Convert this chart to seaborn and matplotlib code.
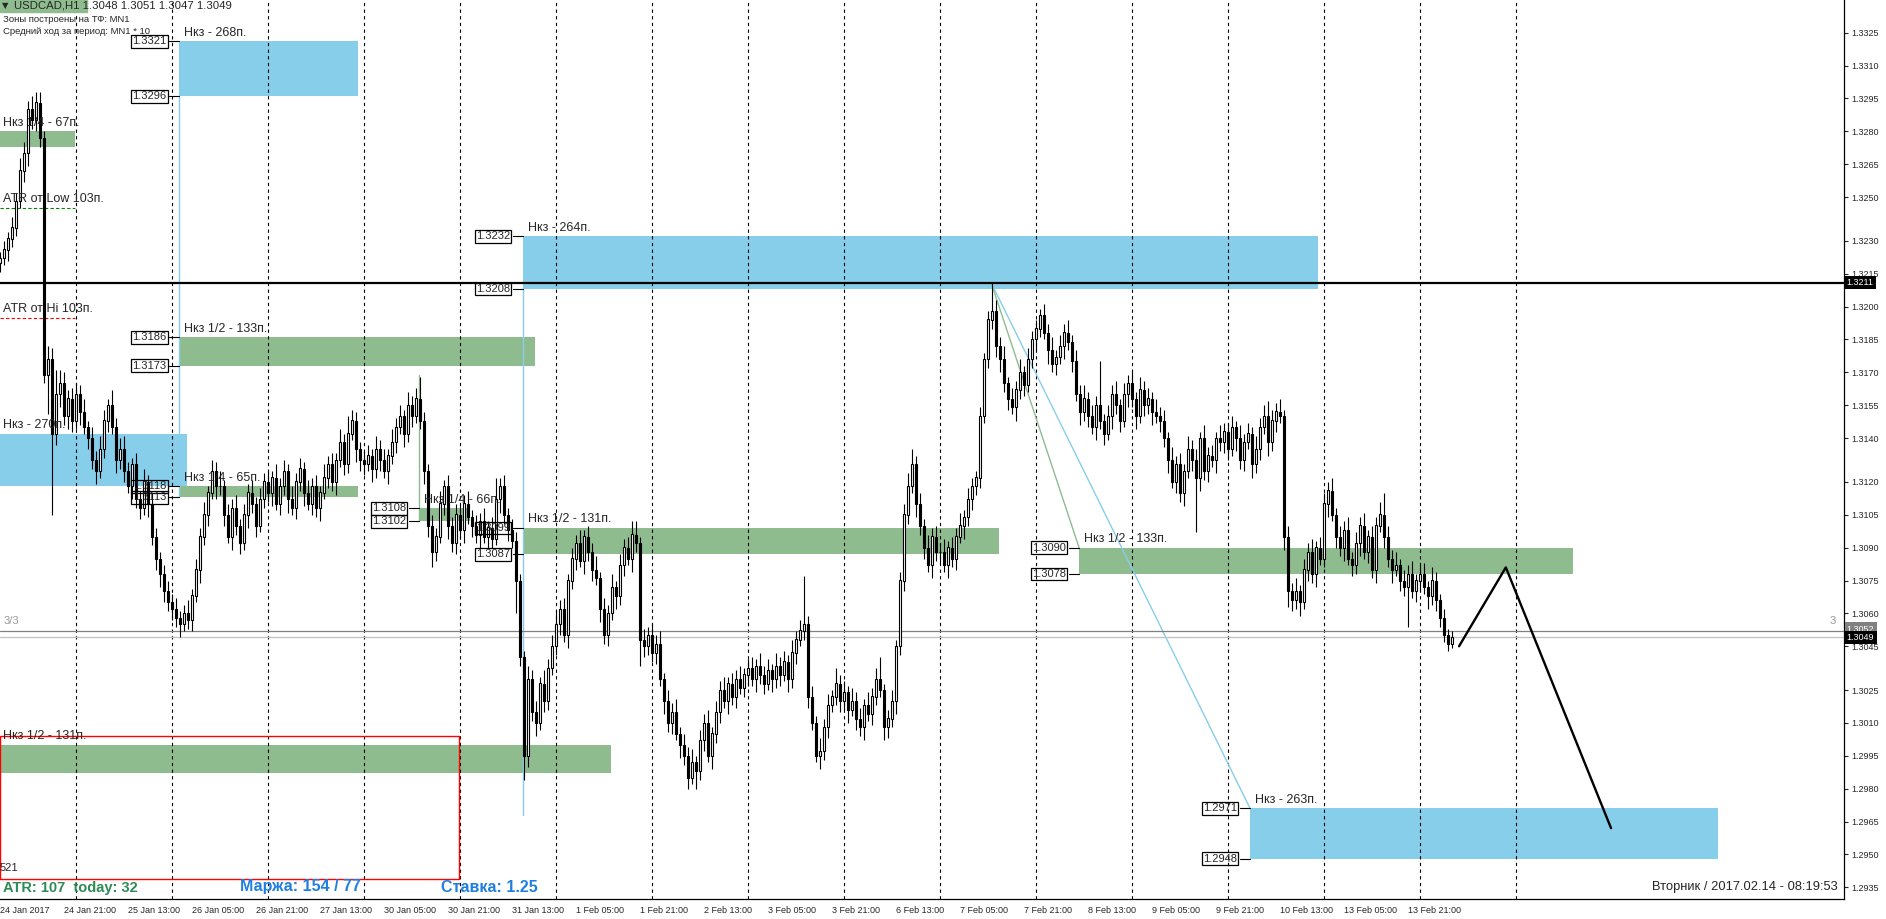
import matplotlib
matplotlib.use("Agg")
import matplotlib.pyplot as plt
from matplotlib import font_manager
from matplotlib.patches import Rectangle
import numpy as np
import seaborn as sns

# USDCAD H1, closes in pips above 1.3000 (one row per day, 24 Jan starts at 05:00)
first_open = 220
closes = [
    222, 226, 231, 236, 248, 262, 270, 290, 285, 293, 277, 169, 176, 142, 160, 165, 150, 158, 148,
    160, 152, 145, 140, 130, 125, 135, 148, 155, 145, 130, 135, 125, 118, 128, 112, 108, 120, 110, 95, 85, 78, 70, 65,
    62, 58, 55, 60, 57, 68, 80, 95, 105, 115, 125, 118, 118, 105, 95, 108, 100, 92, 105, 115, 110, 100, 112, 120,
    115, 122, 110, 118, 125, 112, 108, 120, 126, 115, 110, 118, 108, 115, 122, 128, 120, 130, 138, 128, 142, 148, 135, 130,
    128, 132, 126, 135, 130, 125, 132, 138, 145, 150, 142, 155, 150, 158, 148, 125, 100, 88, 95, 110, 118, 100, 92, 105,
    98, 110, 104, 100, 96, 102, 95, 99, 94, 112, 118, 105, 98, 93, 75, 40, -5, 30, 15, 10, 28, 20, 35, 45,
    55, 62, 50, 75, 85, 92, 84, 95, 88, 80, 76, 62, 50, 60, 72, 68, 82, 90, 85, 96, 92, 48, 45, 50,
    42, 46, 30, 20, 10, 15, 5, 0, -5, -15, -8, -12, 2, 10, -5, 5, 15, 25, 20, 28, 22, 30, 26, 32,
    35, 30, 36, 32, 28, 34, 30, 36, 32, 38, 30, 42, 48, 52, 55, 22, 10, -5, -3, 8, 18, 22, 28, 20,
    24, 16, 20, 12, 8, 18, 14, 22, 30, 25, 8, 12, 20, 45, 75, 105, 118, 128, 110, 100, 90, 82, 95, 88,
    88, 82, 90, 85, 95, 100, 104, 112, 118, 122, 150, 176, 194, 198, 182, 176, 165, 158, 154, 162, 170, 164, 176, 185,
    190, 196, 188, 180, 174, 177, 182, 188, 184, 175, 160, 152, 158, 150, 145, 155, 148, 142, 150, 160, 155, 148, 160, 165,
    158, 150, 162, 155, 158, 152, 150, 148, 140, 130, 120, 128, 115, 125, 135, 130, 122, 140, 125, 132, 130, 140, 138, 143,
    135, 145, 140, 130, 138, 142, 128, 135, 145, 150, 138, 148, 152, 150, 95, 70, 66, 70, 65, 80, 88, 78, 90, 85,
    110, 116, 105, 95, 90, 98, 85, 82, 92, 100, 88, 95, 80, 100, 105, 95, 85, 80, 82, 75, 72, 78, 70, 75,
    78, 72, 68, 75, 66, 58, 50, 46, 49,
]
# wick lengths in pips beyond the body
wick_hi = [
    3, 4, 3, 5, 4, 6, 5, 4, 6, 5, 5, 3, 6, 5, 11, 6, 5, 4, 5,
    5, 4, 6, 3, 5, 4, 6, 5, 3, 7, 4, 5, 6, 4, 3, 5, 4, 6, 3, 5, 4, 3, 4, 5,
    4, 5, 3, 4, 6, 3, 5, 4, 6, 3, 5, 4, 7, 3, 5, 4, 6, 3, 5, 4, 6, 3, 5, 4,
    5, 3, 6, 4, 5, 3, 6, 4, 5, 3, 6, 4, 5, 3, 6, 4, 5, 3, 6, 4, 8, 5, 4, 3,
    4, 5, 3, 6, 4, 5, 3, 6, 4, 5, 3, 6, 4, 5, 10, 4, 3, 5, 4, 6, 3, 5, 4, 5,
    5, 4, 6, 3, 5, 4, 6, 3, 5, 10, 4, 5, 3, 5, 4, 3, 3, 6, 4, 5, 3, 6, 4, 5,
    6, 4, 5, 3, 5, 4, 6, 3, 5, 4, 6, 3, 5, 4, 6, 3, 5, 4, 5, 6, 6, 3, 5, 4,
    5, 4, 6, 3, 5, 4, 6, 3, 5, 4, 6, 3, 5, 4, 6, 3, 5, 4, 6, 3, 5, 4, 6, 3,
    4, 5, 3, 6, 4, 5, 3, 6, 4, 5, 3, 6, 4, 5, 22, 4, 5, 3, 6, 4, 5, 3, 7, 4,
    5, 3, 6, 4, 5, 3, 6, 4, 5, 10, 3, 4, 5, 3, 4, 5, 6, 7, 4, 5, 3, 6, 4, 5,
    4, 6, 3, 5, 4, 6, 3, 5, 4, 3, 4, 3, 4, 13, 5, 4, 6, 3, 5, 4, 6, 3, 5, 4,
    4, 3, 5, 4, 6, 3, 5, 4, 6, 3, 5, 4, 6, 3, 5, 4, 20, 3, 5, 4, 6, 3, 5, 4,
    5, 3, 6, 4, 5, 3, 6, 4, 5, 3, 6, 4, 5, 3, 6, 4, 5, 3, 6, 4, 5, 3, 6, 4,
    4, 5, 3, 6, 4, 5, 3, 6, 4, 5, 7, 5, 4, 6, 3, 5, 4, 6, 3, 5, 4, 6, 3, 5,
    5, 4, 6, 3, 5, 4, 6, 3, 5, 4, 6, 3, 5, 4, 6, 10, 5, 4, 6, 3, 5, 4, 6, 3,
    4, 5, 3, 6, 4, 3, 4, 3, 3,
]
wick_lo = [
    4, 3, 5, 4, 4, 3, 5, 6, 4, 5, 4, 4, 18, 37, 5, 6, 4, 6, 5,
    4, 6, 3, 5, 4, 6, 3, 4, 5, 3, 6, 4, 5, 3, 6, 4, 5, 3, 6, 4, 5, 6, 5, 4,
    5, 4, 6, 3, 4, 5, 3, 6, 4, 5, 3, 6, 4, 5, 3, 6, 4, 5, 3, 6, 4, 5, 3, 4,
    4, 6, 3, 5, 4, 6, 3, 5, 4, 6, 3, 5, 4, 6, 3, 5, 4, 6, 3, 5, 4, 3, 6, 5,
    5, 3, 6, 4, 5, 3, 6, 4, 5, 3, 6, 4, 5, 3, 4, 6, 5, 7, 4, 3, 5, 6, 4, 5,
    4, 6, 3, 5, 4, 6, 3, 5, 4, 3, 6, 4, 5, 3, 15, 4, 11, 5, 4, 6, 3, 5, 4, 3,
    4, 5, 3, 6, 4, 5, 3, 6, 4, 5, 3, 6, 4, 5, 3, 6, 4, 5, 3, 6, 4, 12, 5, 4,
    4, 5, 3, 6, 4, 5, 3, 6, 4, 5, 3, 8, 4, 5, 3, 6, 4, 5, 3, 6, 4, 5, 3, 4,
    5, 3, 6, 4, 5, 3, 6, 4, 5, 3, 6, 4, 5, 3, 4, 5, 3, 3, 6, 4, 5, 3, 4, 5,
    4, 6, 3, 5, 4, 6, 3, 5, 4, 3, 6, 5, 4, 6, 4, 5, 4, 3, 6, 4, 5, 3, 6, 4,
    5, 3, 6, 4, 5, 3, 6, 4, 5, 4, 5, 3, 4, 4, 5, 6, 4, 5, 3, 6, 4, 5, 3, 4,
    5, 4, 3, 6, 4, 5, 3, 6, 4, 5, 3, 6, 4, 5, 3, 6, 4, 5, 3, 6, 4, 5, 3, 6,
    4, 6, 3, 5, 4, 6, 3, 5, 4, 6, 3, 5, 4, 6, 3, 5, 25, 6, 4, 5, 3, 6, 4, 5,
    5, 3, 6, 4, 5, 3, 6, 4, 5, 3, 6, 4, 5, 3, 6, 7, 5, 4, 6, 3, 5, 4, 6, 3,
    4, 6, 3, 5, 4, 6, 3, 5, 4, 6, 3, 5, 4, 6, 3, 5, 4, 6, 3, 5, 4, 18, 3, 5,
    5, 3, 6, 4, 5, 4, 3, 3, 2,
]
assert len(closes) == len(wick_hi) == len(wick_lo) == 364

time_labels = ["24 Jan 2017", "24 Jan 21:00", "25 Jan 13:00", "26 Jan 05:00", "26 Jan 21:00",
               "27 Jan 13:00", "30 Jan 05:00", "30 Jan 21:00", "31 Jan 13:00", "1 Feb 05:00",
               "1 Feb 21:00", "2 Feb 13:00", "3 Feb 05:00", "3 Feb 21:00", "6 Feb 13:00",
               "7 Feb 05:00", "7 Feb 21:00", "8 Feb 13:00", "9 Feb 05:00", "9 Feb 21:00",
               "10 Feb 13:00", "13 Feb 05:00", "13 Feb 21:00"]
time_label_bars = [0] + list(range(16, 353, 16))
day_start_bars = list(range(19, 380, 24))

price_ticks = [1.3325, 1.3310, 1.3295, 1.3280, 1.3265, 1.3250, 1.3230, 1.3215, 1.3200, 1.3185,
               1.3170, 1.3155, 1.3140, 1.3120, 1.3105, 1.3090, 1.3075, 1.3060, 1.3045, 1.3025,
               1.3010, 1.2995, 1.2980, 1.2965, 1.2950, 1.2935]

# zones: start/end bar, low/high price, kind, caption, show price boxes
zone_start = [44.8, 0, 130.8, 44.8, 0, 44.8, 104.8, 130.8, 269.8, 312.55, 0]
zone_end = [89.55, 18.8, 329.6, 133.8, 46.8, 89.55, 117.55, 249.8, 393.3, 429.55, 152.8]
zone_lo = [1.3296, 1.3273, 1.3208, 1.3173, 1.3118, 1.3113, 1.3102, 1.3087, 1.3078, 1.2948, 1.2987]
zone_hi = [1.3321, 1.3280, 1.3232, 1.3186, 1.3142, 1.3118, 1.3108, 1.3099, 1.3090, 1.2971, 1.3000]
zone_kind = ["blue", "green", "blue", "green", "blue", "green", "green", "green", "green", "blue", "green"]
zone_text = ["Нкз - 268п.", "Нкз 1/4 - 67п.", "Нкз - 264п.", "Нкз 1/2 - 133п.", "Нкз - 270п.",
             "Нкз 1/4 - 65п.", "Нкз 1/4 - 66п.", "Нкз 1/2 - 131п.", "Нкз 1/2 - 133п.",
             "Нкз - 263п.", "Нкз 1/2 - 131п."]
zone_boxes = [True, False, True, True, False, True, True, True, True, True, False]

atr_low_level = 1.3245
atr_hi_level = 1.3195
high_line = 1.3211
level3_line = 1.3052
bid = 1.3049
forecast_bars = [364.8, 376.5, 402.8]
forecast_prices = [1.3045, 1.3081, 1.2962]
peak_bar = 247.8

W, H = 1886, 919
sns.set_style("white")
names = {f.name for f in font_manager.fontManager.ttflist}
base = "Liberation Sans" if "Liberation Sans" in names else "DejaVu Sans"
narrow = "Liberation Sans Narrow" if "Liberation Sans Narrow" in names else base
axis_fs = 7.5 if narrow == "Liberation Sans Narrow" else 6.5
plt.rcParams["font.family"] = [base, "DejaVu Sans"]

fig = plt.figure(figsize=(W / 100, H / 100), dpi=100)
ax = fig.add_axes([0, 20 / H, 1844 / W, 899 / H])
ax.set_xlim(0.05, 461.05)
ax.set_ylim(1.292966, 1.333992)

colors = {"blue": "#87CEEB", "green": "#8FBC8F"}
px = 0.25  # one pixel in bar units
pip = 0.0001

# zones
for x0, x1, lo, hi, kind in zip(zone_start, zone_end, zone_lo, zone_hi, zone_kind):
    ax.fill_between([x0, x1], [lo, lo], [hi, hi], color=colors[kind], lw=0, zorder=1)
for x0, hi, txt in zip(zone_start, zone_hi, zone_text):
    tx = x0 + 5 * px if x0 > 1 else 0.8
    ax.text(tx, hi + 1.2 * pip, txt, fontsize=9, va="bottom", ha="left", zorder=8)
for x0, lo, hi, show in zip(zone_start, zone_lo, zone_hi, zone_boxes):
    if not show:
        continue
    for lvl in (hi, lo):
        ax.plot([x0 - 10 * px, x0], [lvl, lvl], color="black", lw=0.8, zorder=7)
        ax.text(x0 - 13 * px, lvl, f"{lvl:.4f}", fontsize=8, ha="right", va="center", zorder=8,
                bbox=dict(boxstyle="square,pad=0.12", fc="none", ec="black", lw=0.9))

# day separators
ax.vlines(day_start_bars, 1.292966, 1.333992, colors="black", lw=0.8,
          linestyles=(0, (3, 3)), zorder=2)

# ATR lines
ax.plot([0, 18.8], [atr_low_level] * 2, color="green", lw=0.8, ls=(0, (3, 2)), zorder=3)
ax.plot([0, 18.8], [atr_hi_level] * 2, color="red", lw=0.8, ls=(0, (3, 2)), zorder=3)
ax.text(0.8, atr_low_level + 1.2 * pip, "ATR от Low 103п.", fontsize=9, va="bottom", zorder=8)
ax.text(0.8, atr_hi_level + 1.2 * pip, "ATR от Hi 103п.", fontsize=9, va="bottom", zorder=8)

# connector lines
ax.plot([44.8, 44.8], [1.3296, 1.3113], color="#87CEEB", lw=1, zorder=3)
ax.plot([130.8, 130.8], [1.3208, 1.2968], color="#87CEEB", lw=1, zorder=3)
ax.plot([104.8, 104.8], [1.3169, 1.3102], color="#8FBC8F", lw=1, zorder=3)
ax.plot([peak_bar, 312.55], [high_line, 1.2971], color="#87CEEB", lw=1, zorder=3)
ax.plot([peak_bar, 269.8], [high_line, 1.3090], color="#8FBC8F", lw=1, zorder=3)

# horizontal levels
ax.axhline(high_line, color="black", lw=1.6, zorder=6)
ax.axhline(level3_line, color="#808080", lw=0.9, zorder=3)
ax.axhline(bid, color="#C0C0C0", lw=0.9, zorder=3)

# red box
ax.add_patch(Rectangle((0, 1.2939), 114.8, 0.0065, fill=False, ec="red", lw=1, zorder=4))

# candles
c = 1.3 + np.array(closes) / 1e4
o = np.r_[1.3 + first_open / 1e4, c[:-1]]
hi = np.maximum(o, c) + np.array(wick_hi) / 1e4
lo = np.minimum(o, c) - np.array(wick_lo) / 1e4
idx = np.arange(len(c))
ax.vlines(idx, lo, hi, colors="black", lw=0.8, zorder=4)
bull = c >= o
ax.bar(idx[bull], (c - o)[bull] + 0.00002, bottom=o[bull], width=0.55, color="white",
       edgecolor="black", lw=0.8, zorder=5)
ax.bar(idx[~bull], (o - c)[~bull], bottom=c[~bull], width=0.55, color="black",
       edgecolor="black", lw=0.8, zorder=5)

# forecast path
sns.lineplot(x=forecast_bars, y=forecast_prices, ax=ax, color="black", lw=1.7,
             sort=False, estimator=None, zorder=6)

# axes
for s in ("top", "left"):
    ax.spines[s].set_visible(False)
for s in ("right", "bottom"):
    ax.spines[s].set_color("black")
    ax.spines[s].set_linewidth(0.9)
ax.yaxis.tick_right()
ax.set_yticks(price_ticks)
ax.set_yticklabels([f"{t:.4f}" for t in price_ticks])
ax.set_xticks(time_label_bars)
ax.set_xticklabels(time_labels)
ax.tick_params(axis="y", direction="out", length=3, width=0.8, pad=2, labelsize=axis_fs)
ax.tick_params(axis="x", direction="out", length=3, width=0.8, pad=2, labelsize=axis_fs)
for lbl in ax.get_yticklabels() + ax.get_xticklabels():
    lbl.set_fontfamily(narrow)
for lbl in ax.get_xticklabels():
    lbl.set_ha("left")
ax.grid(False)

ytr = ax.get_yaxis_transform()
ax.text(1.0015, level3_line + 0.8 * pip, f"{level3_line:.4f}", transform=ytr, fontsize=axis_fs,
        family=narrow, color="white", va="center", ha="left", zorder=9, clip_on=False,
        bbox=dict(boxstyle="square,pad=0.25", fc="#808080", ec="none"))
for lvl in (high_line, bid):
    ax.text(1.0015, lvl, f"{lvl:.4f}", transform=ytr, fontsize=axis_fs, family=narrow,
            color="white", va="center", ha="left", zorder=10, clip_on=False,
            bbox=dict(boxstyle="square,pad=0.25", fc="black", ec="none"))


def put(x, y, s, **kw):
    fig.text(x / W, 1 - y / H, s, **kw)


fig.patches.append(Rectangle((0, 1 - 12 / H), 87 / W, 12 / H, transform=fig.transFigure,
                             color="#8FBC8F", zorder=0))
put(2, 6, "▼", fontsize=6, va="center", family="DejaVu Sans")
put(14, 6, "USDCAD,H1 1.3048 1.3051 1.3047 1.3049", fontsize=8.2, va="center")
put(3, 20, "Зоны построены на ТФ: MN1", fontsize=6.8, va="center")
put(3, 31, "Средний ход за период: MN1 * 10", fontsize=6.8, va="center")
put(4, 621, "3/3", fontsize=8, va="center", color="#9A9A9A")
put(1830, 621, "3", fontsize=8, va="center", color="#9A9A9A")
put(0, 868, "521", fontsize=8, va="center")
put(3, 888, "ATR: 107  today: 32", fontsize=10.5, weight="bold", color="#2E8B57", va="center")
put(240, 887, "Маржа: 154 / 77", fontsize=11.5, weight="bold", color="#1E7FE0", va="center")
put(441, 887, "Ставка: 1.25", fontsize=11.5, weight="bold", color="#1E7FE0", va="center")
put(1838, 887, "Вторник / 2017.02.14 - 08:19:53", fontsize=9.3, va="center", ha="right")

fig.savefig("out.png", dpi=100, facecolor="white")
